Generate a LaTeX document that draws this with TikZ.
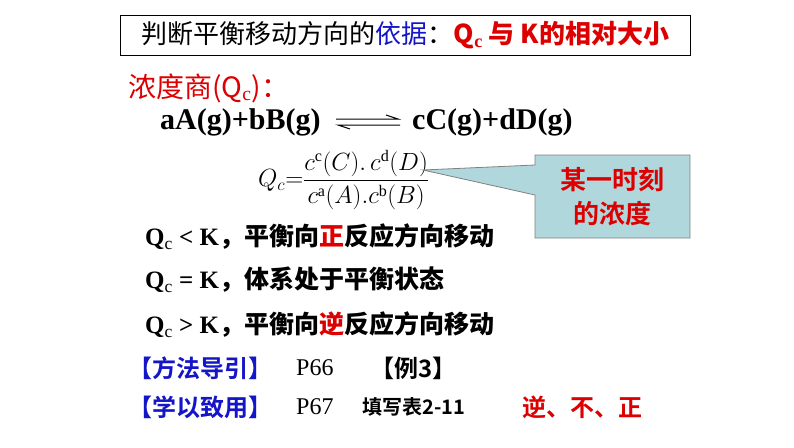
\documentclass[tikz,border=0pt]{standalone}
\usepackage{amsmath}
\usepackage{fontspec}
\setmainfont{Liberation Serif}
\newfontfamily\cjk{Noto Sans CJK SC}
\newfontfamily\cjkb{Noto Sans CJK SC Bold}
\usetikzlibrary{positioning}
\definecolor{qred}{RGB}{220,0,0}
\definecolor{qblue}{RGB}{20,20,200}
\definecolor{callfill}{RGB}{176,216,220}
\tikzset{
  rowtext/.style={anchor=west, inner sep=0pt, font=\fontsize{25}{28}\selectfont\bfseries},
}
\begin{document}
\begin{tikzpicture}[x=1pt,y=-1pt]
  \useasboundingbox (0,0) rectangle (794,447);
  % title box
  \node[draw, line width=1pt, minimum width=570, minimum height=40, anchor=north west, inner sep=0pt] (title) at (120,15) {};
  \node[anchor=center, font=\fontsize{26}{28}\selectfont] (titletext) at (title.center)
    {\cjk 判断平衡移动方向的\textcolor{qblue}{依据}：\textcolor{qred}{\bfseries Q$_\mathbf{c}$ {\cjk 与} K{\cjk 的相对大小}}};
  % heading
  \node[anchor=west, inner sep=0pt, text=qred, font=\fontsize{28}{30}\selectfont] (head) at (128,88)
    {\cjk 浓度商(Q$_\mathrm{c}$)：};
  % reaction
  \node[rowtext, font=\fontsize{30}{32}\selectfont\bfseries] (react) at (160,122) {aA(g)+bB(g)};
  \node[rowtext, font=\fontsize{30}{32}\selectfont\bfseries] (prod) at (412,122) {cC(g)+dD(g)};
  \draw[line width=1pt] (336,119) -- (398,119) -- (386,115);
  \draw[line width=1pt] (400,125) -- (338,125) -- (350,129);
  % formula
  \node[anchor=west, inner sep=0pt, font=\fontsize{23}{26}\selectfont] (qc) at (258,180)
    {$Q_c{=}\dfrac{c^{\mathrm{c}}(C).\,c^{\mathrm{d}}(D)}{c^{\mathrm{a}}(A).c^{\mathrm{b}}(B)}$};
  % callout
  \coordinate (tip) at (423,170);
  \draw[gray, fill=callfill, line width=0.8pt] (535,155) -- (535,165) -- (tip) -- (535,195) -- (535,238) -- (690,238) -- (690,155) -- cycle;
  \node[align=center, text=qred, font=\fontsize{26}{34}\selectfont\cjkb] (callout) at (612,197) {某一时刻\\的浓度};
  % conditions
  \node[rowtext] (lt) at (145,237) {Q$_\mathrm{c}$ < K{\cjkb ，平衡向\textcolor{qred}{正}反应方向移动}};
  \node[rowtext] (eq) at (145,280) {Q$_\mathrm{c}$ = K{\cjkb ，体系处于平衡状态}};
  \node[rowtext] (gt) at (145,325) {Q$_\mathrm{c}$ > K{\cjkb ，平衡向\textcolor{qred}{逆}反应方向移动}};
  % references
  \node[rowtext, text=qblue, font=\fontsize{24}{28}\selectfont] (ref1) at (128,368) {\cjkb 【方法导引】};
  \node[rowtext, font=\fontsize{24}{28}\selectfont] (p66) at (296,368) {P66};
  \node[rowtext, font=\fontsize{24}{28}\selectfont] (ex3) at (370,368) {\cjkb 【例3】};
  \node[rowtext, text=qblue, font=\fontsize{24}{28}\selectfont] (ref2) at (128,407) {\cjkb 【学以致用】};
  \node[rowtext, font=\fontsize{24}{28}\selectfont] (p67) at (296,407) {P67};
  \node[rowtext, font=\fontsize{20}{24}\selectfont] (tab) at (362,407) {\cjkb 填写表2-11};
  \node[rowtext, text=qred, font=\fontsize{24}{28}\selectfont] (ans) at (522,407) {\cjkb 逆、不、正};
\end{tikzpicture}
\end{document}
